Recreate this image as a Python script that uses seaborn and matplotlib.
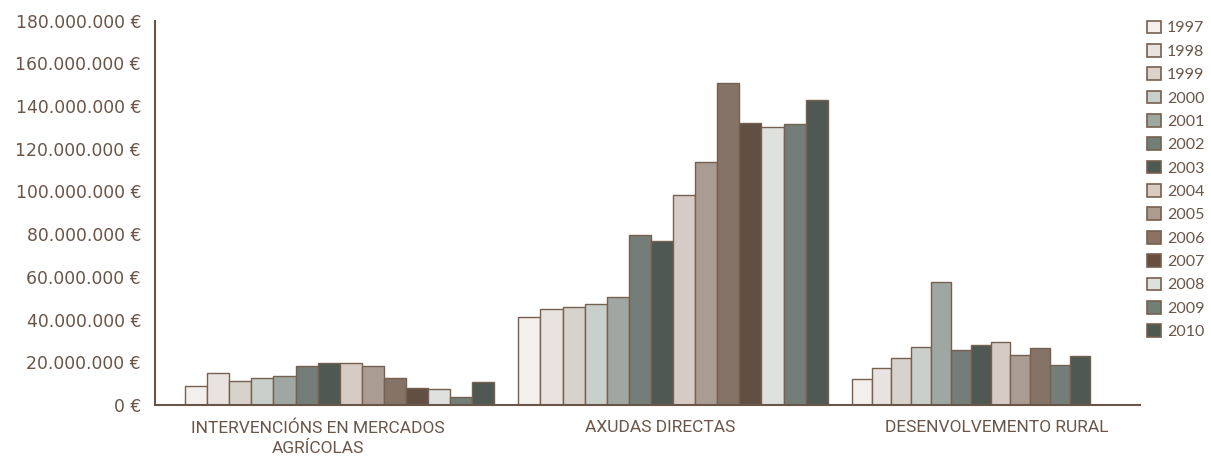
import numpy as np
import pandas as pd
import matplotlib
matplotlib.use("Agg")
import matplotlib.pyplot as plt
from matplotlib.patches import Patch
import seaborn as sns

years = ["1997", "1998", "1999", "2000", "2001", "2002", "2003",
         "2004", "2005", "2006", "2007", "2008", "2009", "2010"]
colors = ["#f3efec", "#e9e3df", "#dad2cb", "#c8d0cb", "#9ea8a1", "#727f76", "#4d5a51",
          "#d9cbc2", "#ae9b8f", "#8b7262", "#674e3f", "#dde1dd", "#727f76", "#4d5a51"]
categories = ["INTERVENCIÓNS EN MERCADOS\nAGRÍCOLAS", "AXUDAS DIRECTAS", "DESENVOLVEMENTO RURAL"]

# millions of euros (None = no bar)
intervencions = [8.9, 14.8, 11.2, 12.5, 13.7, 18.4, 19.5, 19.5, 18.4, 12.5, 7.8, 7.6, 3.9, 10.6]
axudas = [41.1, 44.8, 45.9, 47.2, 50.6, 79.5, 77.0, 98.5, 114.0, 151.0, 131.9, 130.4, 131.5, 142.9]
desenvolvemento = [12.3, 17.3, 22.0, 27.0, 57.5, 25.6, 28.1, 29.4, 23.3, 26.7, None, None, 18.7, 22.8]

series = [intervencions, axudas, desenvolvemento]
bar_w = [0.0663, 0.0663, 0.0595]
text_col = "#6b5548"
edge_col = "#76604f"
palette = dict(zip(years, colors))

sns.set_style("white")
plt.rcParams['font.family'] = ['Lato', 'DejaVu Sans']

fig = plt.figure(figsize=(12.11, 4.57), dpi=100)
ax = fig.add_axes([0.128, 0.1138, 0.813, 0.841])

for g, vals in enumerate(series):
    yrs = [y for y, v in zip(years, vals) if v is not None]
    vv = [v * 1e6 for v in vals if v is not None]
    xs = [g + (i + 0.5) * bar_w[g] for i in range(len(yrs))]
    df = pd.DataFrame({"x": xs, "value": vv, "year": yrs})
    sns.barplot(data=df, x="x", y="value", hue="year", palette=palette, dodge=False,
                native_scale=True, width=1, edgecolor=edge_col, linewidth=1.0,
                legend=False, ax=ax)

ax.set_ylim(0, 180e6)
ax.set_xlim(-0.09, 2.8636)
yt = np.arange(0, 180e6 + 1, 20e6)
ax.set_yticks(yt)
ax.set_yticklabels([f"{v:,.0f} €".replace(",", ".") for v in yt], fontsize=12.4,
                   color=text_col, family=['DejaVu Sans'])
bounds = [-0.09, 0.96, 1.985, 2.8636]
ax.set_xticks(bounds)
ax.set_xticklabels([])
mids = [0.399, 1.427, 2.435]
ax.set_xticks(mids, minor=True)
ax.set_xticklabels(categories, minor=True, fontsize=12.5, color=text_col,
                   family=['Roboto', 'DejaVu Sans'], linespacing=1.4)
ax.tick_params(axis="x", which="minor", length=0, pad=11)
ax.tick_params(axis="x", which="major", length=10, width=1.5, color=text_col, direction="out")
ax.tick_params(axis="y", length=10, width=1.5, color=text_col, direction="out", pad=0)
ax.set_xlabel("")
ax.set_ylabel("")
for s in ["top", "right"]:
    ax.spines[s].set_visible(False)
for s in ["left", "bottom"]:
    ax.spines[s].set_color(text_col)
    ax.spines[s].set_linewidth(1.5)

handles = [Patch(facecolor=c, edgecolor=edge_col, linewidth=1.2) for c in colors]
fig.legend(handles, years, loc="upper left", bbox_to_anchor=(0.942, 0.969), frameon=False,
           fontsize=11.5, labelcolor=text_col, handlelength=0.85, handleheight=0.85,
           handletextpad=0.4, labelspacing=0.53, borderaxespad=0)

fig.savefig("out.png", dpi=100)
